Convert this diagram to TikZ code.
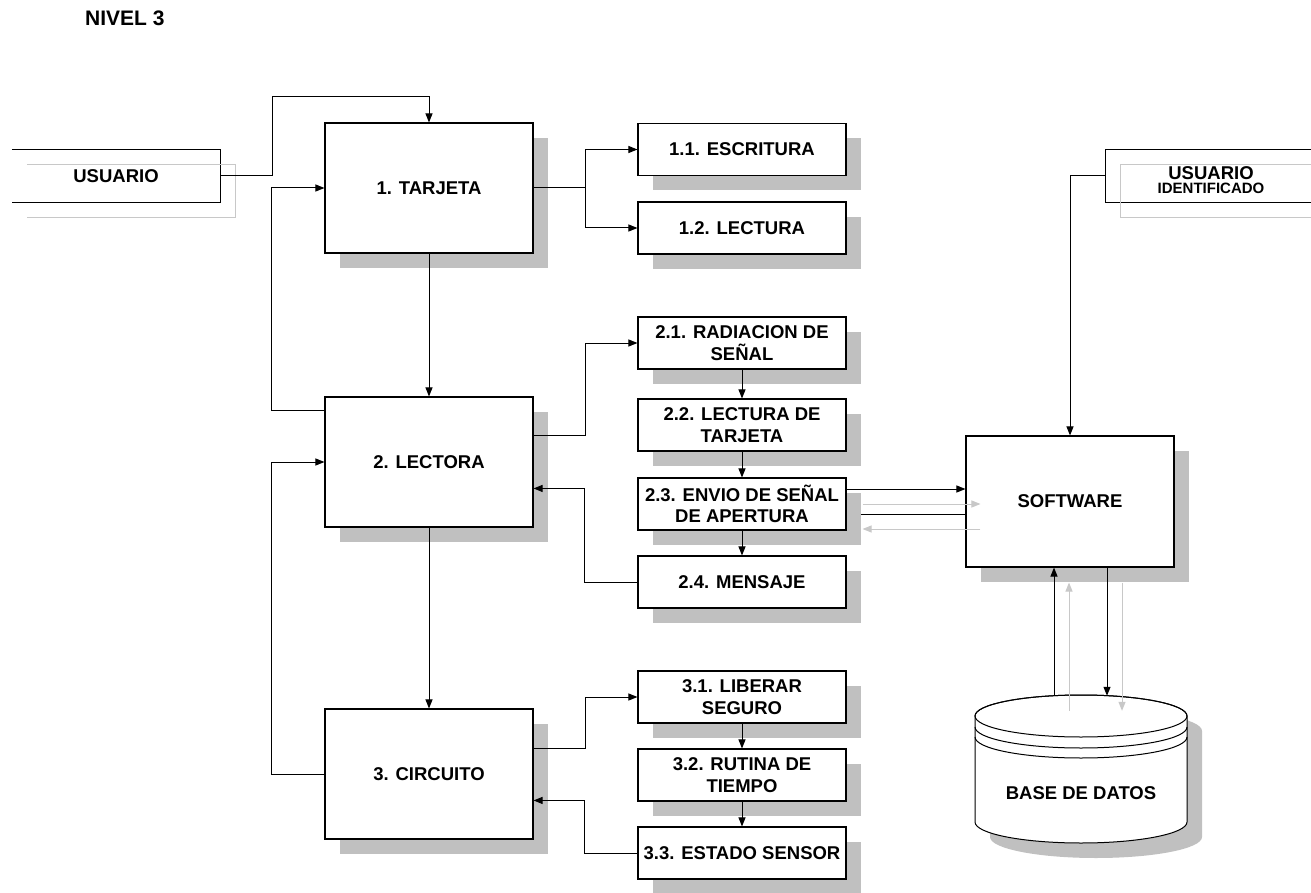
\documentclass[tikz,border=0pt]{standalone}
\usepackage{fontspec}
\setmainfont{Liberation Sans}
\usetikzlibrary{arrows.meta,calc,shadows}
\definecolor{shadegray}{HTML}{C0C0C0}
\definecolor{ghostgray}{HTML}{C8C8C8}
\pgfdeclarelayer{back}
\pgfsetlayers{back,main}

\begin{document}
\begin{tikzpicture}[x=1pt,y=-1pt,
  lbl/.style={font=\fontsize{18.5}{21.5}\selectfont\bfseries, align=center, inner sep=0pt},
  plain/.style={font=\fontsize{18.5}{21.5}\selectfont\bfseries, inner sep=0pt},
  proc/.style={lbl, draw, line width=1.1pt, fill=white, minimum width=208pt,
    drop shadow={shadow xshift=15pt, shadow yshift=-15pt, fill=shadegray, opacity=1}},
  bigbox/.style={proc, minimum height=130pt},
  subbox/.style={proc, minimum height=52pt},
  extbox/.style={lbl, minimum width=208pt, minimum height=52pt},
  conn/.style={line width=1pt, -{Triangle[length=9pt,width=7pt]}},
  ghostconn/.style={line width=1pt, draw=ghostgray, -{Triangle[length=9pt,width=7pt,fill=ghostgray]}},
  frame/.style={line width=1.1pt},
  ghostframe/.style={line width=1pt, draw=ghostgray},
]
\useasboundingbox (0,0) rectangle (1311,893);

% title
\node[plain, font=\fontsize{21}{21}\selectfont\bfseries, anchor=west] (title) at (85,18.5) {NIVEL 3};

% external entities (open frames with outlined shadows)
\node[extbox] (usr) at (116,176) {USUARIO};
\draw[frame] (usr.north west) -- (usr.north east) -- (usr.south east) -- (usr.south west);
\draw[ghostframe] ($(usr.north west)+(15,15)$) -- ($(usr.north east)+(15,15)$)
  -- ($(usr.south east)+(15,15)$) -- ($(usr.south west)+(15,15)$);

\node[extbox] (uid) at (1210,176) {};
\draw[frame] (uid.north east) -- (uid.north west) -- (uid.south west) -- (uid.south east);
\draw[ghostframe] ($(uid.north east)+(15,15)$) -- ($(uid.north west)+(15,15)$)
  -- ($(uid.south west)+(15,15)$) -- ($(uid.south east)+(15,15)$);
\node[plain] (uidA) at (1211,173) {USUARIO};
\node[plain, font=\fontsize{15}{15}\selectfont\bfseries] (uidB) at (1211,188) {IDENTIFICADO};

% main processes
\node[bigbox] (tar) at (429,188) {1. TARJETA};
\node[bigbox] (lec) at (429,462) {2. LECTORA};
\node[bigbox] (cir) at (429,774) {3. CIRCUITO};
\node[bigbox, minimum height=131pt] (sw) at (1070,501.5) {SOFTWARE};

% sub processes
\node[subbox] (s11) at (742,149.5) {1.1. ESCRITURA};
\node[subbox] (s12) at (742,228) {1.2. LECTURA};
\node[subbox] (s21) at (742,343) {2.1. RADIACION DE\\SEÑAL};
\node[subbox] (s22) at (742,425) {2.2. LECTURA DE\\TARJETA};
\node[subbox] (s23) at (742,504) {2.3. ENVIO DE SEÑAL\\DE APERTURA};
\node[subbox] (s24) at (742,582) {2.4. MENSAJE};
\node[subbox] (s31) at (742,697) {3.1. LIBERAR\\SEGURO};
\node[subbox] (s32) at (742,775) {3.2. RUTINA DE\\TIEMPO};
\node[subbox] (s33) at (742,853) {3.3. ESTADO SENSOR};

% database cylinder
\node[minimum width=212pt, minimum height=148pt, inner sep=0pt] (db) at (1081,769) {};
\fill[shadegray] (990,731) -- (990,837)
  arc[start angle=180, end angle=360, x radius=106pt, y radius=21pt]
  -- (1202,731) arc[start angle=0, end angle=180, x radius=106pt, y radius=21pt] -- cycle;
\filldraw[fill=white, line width=1pt] (975,716) -- (975,822)
  arc[start angle=180, end angle=360, x radius=106pt, y radius=21pt]
  -- (1187,716) arc[start angle=0, end angle=180, x radius=106pt, y radius=21pt] -- cycle;
\draw[line width=1pt] (1081,716) ellipse[x radius=106pt, y radius=21pt];
\draw[line width=1pt] (975,727) arc[start angle=180, end angle=360, x radius=106pt, y radius=21pt];
\draw[line width=1pt] (975,737) arc[start angle=180, end angle=360, x radius=106pt, y radius=21pt];
\node[lbl] (dbtext) at (1081,793) {BASE DE DATOS};

% connectors
\draw[conn] (usr.east) -- ++(52,0) |- ($(tar.north)+(0,-26)$) -- (tar.north);
\draw[conn] ($(lec.north west)+(0,14)$) -- ++(-53,0) |- (tar.west);
\draw[conn] (cir.west) -- ++(-53,0) |- (lec.west);
\draw[conn] (tar.south) -- (lec.north);
\draw[conn] (lec.south) -- (cir.north);

\draw[conn] (tar.east) -- ++(52,0) |- (s11.west);
\draw[conn] (tar.east) -- ++(52,0) |- (s12.west);

\draw[conn] ($(lec.north east)+(0,39)$) -- ++(52,0) |- (s21.west);
\draw[conn] (s24.west) -- ++(-53,0) |- ($(lec.north east)+(0,92)$);
\draw[conn] (s21.south) -- (s22.north);
\draw[conn] (s22.south) -- (s23.north);
\draw[conn] (s23.south) -- (s24.north);

\draw[conn] ($(cir.north east)+(0,40)$) -- ++(52,0) |- (s31.west);
\draw[conn] (s33.west) -- ++(-53,0) |- ($(cir.north east)+(0,92)$);
\draw[conn] (s31.south) -- (s32.north);
\draw[conn] (s32.south) -- (s33.north);

% exchange between 2.3 and the software
\coordinate (a1) at ($(s23.east)+(0,-15)$);
\coordinate (a2) at ($(s23.east)+(0,10)$);
\draw[conn] (a1) -- (a1 -| sw.west);
\begin{pgfonlayer}{back}
  \draw[conn] (a2 -| sw.west) -- (a2);
\end{pgfonlayer}
\draw[ghostconn] ($(a1)+(16,15)$) -- ($(a1 -| sw.west)+(15,15)$);
\draw[ghostconn] ($(a2 -| sw.west)+(15,15)$) -- ($(a2)+(16,15)$);

% identified user into the software
\draw[conn] (uid.west) -| (sw.north);

% software and database
\coordinate (u1) at ($(db.north)+(-27,1)$);
\coordinate (d1) at ($(sw.south)+(37,0)$);
\draw[conn] (u1) -- (u1 |- sw.south);
\draw[conn] (d1) -- ($(d1 |- db.north)+(0,1)$);
\draw[ghostconn] ($(u1)+(15,15)$) -- ($(u1 |- sw.south)+(15,15)$);
\draw[ghostconn] ($(d1)+(15,15)$) -- ($(d1 |- db.north)+(15,16)$);
\end{tikzpicture}
\end{document}
